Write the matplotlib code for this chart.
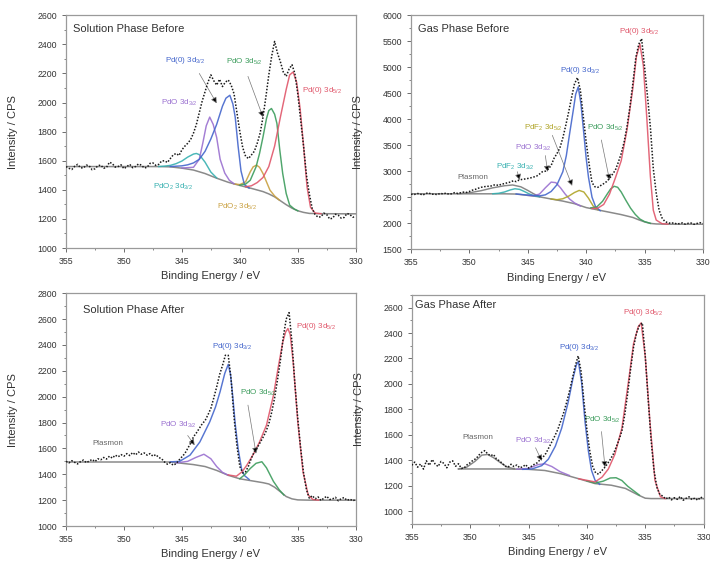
import numpy as np
import matplotlib
matplotlib.use("Agg")
import matplotlib.pyplot as plt
from matplotlib.ticker import MultipleLocator

plt.rcParams['font.family'] = ['Liberation Sans', 'DejaVu Sans']
plt.rcParams['mathtext.fontset'] = 'custom'
plt.rcParams['mathtext.rm'] = 'Liberation Sans'
plt.rcParams['mathtext.it'] = 'Liberation Sans:italic'

# colours used for the fitted components
RED = '#e0566a'
BLUE = '#4466cc'
GREEN = '#3c9c5c'
PURPLE = '#9a70d0'
CYAN = '#36b0b0'
ORANGE = '#c9a040'
OLIVE = '#b0a428'
GREY = '#7a7a7a'

# ---------- Solution Phase Before : raw counts 355 -> 330 eV, 0.25 eV steps
sol_before_raw = [1560, 1548, 1540, 1562, 1575, 1552, 1550, 1570, 1565, 1538,
                  1545, 1566, 1570, 1548, 1555, 1590, 1580, 1556, 1560, 1572,
                  1545, 1560, 1575, 1552, 1560, 1578, 1570, 1550, 1555, 1582,
                  1585, 1568, 1575, 1598, 1600, 1588, 1615, 1640, 1650, 1636,
                  1675, 1700, 1720, 1745, 1790, 1850, 1930, 2010, 2075, 2140,
                  2190, 2150, 2120, 2160, 2110, 2140, 2155, 2120, 2060, 1930,
                  1800, 1690, 1630, 1615, 1640, 1665, 1720, 1790, 1900, 2040,
                  2190, 2320, 2420, 2340, 2280, 2210, 2180, 2230, 2260, 2200,
                  2060, 1880, 1700, 1500, 1370, 1270, 1230, 1212, 1215, 1240,
                  1230, 1200, 1205, 1232, 1225, 1205, 1210, 1238, 1230, 1212,
                  1215]
sol_before_bg_x = [355, 347, 346, 345, 344, 343, 342, 341, 340, 339, 338, 337.5,
                   337, 336.5, 336, 335.5, 335, 334.5, 334, 333, 330]
sol_before_bg_y = [1560, 1560, 1558, 1549, 1536, 1512, 1480, 1452, 1430, 1410, 1388,
                   1372, 1352, 1325, 1298, 1274, 1256, 1245, 1238, 1236, 1235]
sb_pd0_52_x = [339.5, 339, 338.5, 338, 337.5, 337, 336.5, 336, 335.7, 335.4, 335.1,
               334.8, 334.5, 334.2, 333.9, 333.5, 333]
sb_pd0_52_y = [1421, 1428, 1450, 1485, 1560, 1700, 1900, 2090, 2190, 2210, 2140,
               1960, 1700, 1420, 1280, 1240, 1236]
sb_pd0_32_x = [346, 345, 344.5, 344, 343.5, 343, 342.5, 342, 341.5, 341.2, 340.86,
               340.6, 340.4, 340.15, 339.9, 339.6, 339.2]
sb_pd0_32_y = [1560, 1565, 1572, 1585, 1610, 1665, 1750, 1850, 1975, 2030, 2050,
               1990, 1900, 1700, 1530, 1435, 1412]
sb_pdo_32_x = [345, 344, 343.5, 343.2, 342.9, 342.6, 342.3, 342, 341.7, 341.3, 340.9, 340.5]
sb_pdo_32_y = [1550, 1555, 1610, 1720, 1840, 1900, 1850, 1760, 1610, 1515, 1465, 1442]
sb_pdo2_32_x = [347, 346.5, 346, 345.5, 345, 344.5, 344, 343.75, 343.5, 343, 342.5, 342]
sb_pdo2_32_y = [1560, 1563, 1568, 1580, 1598, 1625, 1646, 1650, 1642, 1590, 1522, 1482]
sb_pdo_52_x = [340, 339.5, 339.1, 338.6, 338.3, 338, 337.7, 337.5, 337.27, 337.0,
               336.8, 336.55, 336.3, 336.0, 335.7, 335.3, 335]
sb_pdo_52_y = [1432, 1440, 1466, 1558, 1650, 1764, 1890, 1945, 1959, 1920,
               1856, 1672, 1512, 1375, 1295, 1268, 1256]
sb_pdo2_52_x = [340.5, 340, 339.5, 339.1, 338.85, 338.56, 338.3, 338, 337.7, 337.4, 337, 336.6]
sb_pdo2_52_y = [1441, 1436, 1455, 1524, 1558, 1570, 1555, 1512, 1455, 1398, 1358, 1330]

# ---------- Gas Phase Before
gas_before_raw = [2560, 2548, 2572, 2565, 2540, 2570, 2585, 2555, 2560, 2548,
                  2575, 2562, 2580, 2555, 2568, 2590, 2572, 2585, 2598, 2592,
                  2610, 2635, 2650, 2672, 2690, 2700, 2712, 2705, 2730, 2740,
                  2725, 2752, 2760, 2778, 2790, 2815, 2800, 2830, 2842, 2850,
                  2860, 2872, 2888, 2905, 2945, 2990, 3000, 3040, 3110, 3250,
                  3340, 3450, 3640, 3880, 4140, 4420, 4680, 4800, 4560, 4060,
                  3560, 3140, 2780, 2700, 2690, 2725, 2760, 2800, 2860, 2940,
                  3020, 3170, 3340, 3560, 3860, 4240, 4690, 5180, 5440, 5550,
                  5010, 4450, 3850, 3050, 2580, 2250, 2100, 2030, 2010, 1995,
                  2008, 1985, 1992, 2005, 1980, 1998, 2002, 1978, 1995, 2010,
                  1990]
gas_before_bg_x = [355, 347, 346, 345, 344, 343, 342, 341, 340, 339, 338, 337, 336,
                   335.5, 335, 334.5, 334, 333, 330]
gas_before_bg_y = [2565, 2565, 2560, 2535, 2507, 2465, 2425, 2375, 2300, 2255, 2210,
                   2165, 2110, 2065, 2025, 1995, 1985, 1980, 1980]
gb_pd0_52_x = [339.5, 339, 338.5, 338, 337.5, 337, 336.5, 336, 335.7, 335.4, 335.1,
               334.8, 334.5, 334.25, 334, 333.5, 333]
gb_pd0_52_y = [2282, 2290, 2360, 2560, 2870, 3200, 3800, 4600, 5200, 5450, 5030,
               4000, 2900, 2250, 2060, 1990, 1982]
gb_pd0_32_x = [346, 345, 344, 343.5, 343, 342.5, 342, 341.7, 341.4, 341.1, 340.9,
               340.68, 340.45, 340.2, 340, 339.8, 339.5, 339.2, 338.8]
gb_pd0_32_y = [2562, 2540, 2525, 2545, 2610, 2740, 2990, 3300, 3750, 4180, 4480,
               4620, 4300, 3720, 3250, 2880, 2500, 2320, 2240]
gb_pdo_32_x = [345, 344.5, 344, 343.5, 343, 342.6, 342.2, 341.8, 341.4, 341, 340.5]
gb_pdo_32_y = [2535, 2528, 2560, 2680, 2790, 2780, 2680, 2560, 2460, 2390, 2330]
gb_pdf2_52_x = [343, 342.5, 342, 341.5, 341, 340.6, 340.2, 339.8, 339.4, 339]
gb_pdf2_52_y = [2465, 2452, 2470, 2520, 2590, 2630, 2600, 2480, 2330, 2260]
gb_pdf2_32_x = [348, 347.5, 347, 346.5, 346.1, 345.7, 345.3, 344.9, 344.5, 344]
gb_pdf2_32_y = [2566, 2575, 2600, 2640, 2662, 2650, 2610, 2565, 2528, 2510]
gb_pdo_52_x = [339.6, 339.1, 338.6, 338.2, 337.9, 337.6, 337.3, 337, 336.6, 336.2,
               335.8, 335.4, 335, 334.5]
gb_pdo_52_y = [2295, 2310, 2420, 2560, 2660, 2710, 2690, 2600, 2440, 2290,
               2170, 2080, 2030, 1998]
gb_plasmon_x = [351, 350, 349, 348, 347, 346.3, 345.6, 345, 344.5, 344]
gb_plasmon_y = [2566, 2585, 2625, 2680, 2720, 2735, 2700, 2630, 2565, 2512]

# ---------- Solution Phase After
sol_after_raw = [1500, 1488, 1505, 1492, 1480, 1498, 1510, 1490, 1502, 1515,
                 1498, 1520, 1512, 1530, 1518, 1540, 1525, 1548, 1535, 1552,
                 1540, 1560, 1545, 1568, 1550, 1572, 1555, 1565, 1548, 1560,
                 1540, 1552, 1530, 1520, 1495, 1478, 1490, 1470, 1482, 1510,
                 1535, 1560, 1600, 1640, 1690, 1720, 1755, 1790, 1815, 1860,
                 1910, 1990, 2075, 2170, 2240, 2320, 2320, 2130, 1840, 1620,
                 1460, 1410, 1420, 1465, 1525, 1575, 1605, 1645, 1685, 1730,
                 1790, 1880, 1990, 2130, 2280, 2460, 2600, 2650, 2420, 2100,
                 1830, 1600, 1410, 1280, 1215, 1235, 1210, 1225, 1198, 1215,
                 1230, 1205, 1210, 1222, 1195, 1212, 1220, 1198, 1208, 1195,
                 1205]
sol_after_bg_x = [355, 346, 345, 344, 343, 342, 341, 340, 339, 338, 337.5, 337,
                  336.5, 336, 335.5, 335, 334, 330]
sol_after_bg_y = [1495, 1495, 1485, 1475, 1460, 1430, 1392, 1365, 1350, 1335, 1325,
                  1300, 1265, 1228, 1210, 1202, 1200, 1200]
sa_pd0_52_x = [341, 340.3, 339.8, 339.4, 338.8, 338.3, 337.7, 337.1, 336.7, 336.3,
               336.05, 335.85, 335.65, 335.4, 335.0, 334.55, 334.1, 333.7, 333.2]
sa_pd0_52_y = [1395, 1385, 1420, 1470, 1560, 1650, 1780, 2010, 2220, 2420,
               2500, 2527, 2480, 2270, 1806, 1420, 1240, 1205, 1200]
sa_pd0_32_x = [346, 345.2, 344.3, 343.45, 342.6, 342.1, 341.7, 341.3, 341.0, 340.8,
               340.6, 340.4, 340.15, 339.85, 339.6, 339.2]
sa_pd0_32_y = [1496, 1500, 1548, 1650, 1805, 1920, 2040, 2180, 2250, 2170,
               1990, 1790, 1600, 1440, 1390, 1360]
sa_pdo_32_x = [345.5, 344.5, 343.8, 343.1, 342.5, 342, 341.5, 341]
sa_pdo_32_y = [1488, 1500, 1530, 1555, 1520, 1460, 1415, 1393]
sa_pdo_52_x = [340, 339.6, 339.1, 338.6, 338.1, 337.7, 337.1, 336.6, 336.2]
sa_pdo_52_y = [1366, 1395, 1445, 1485, 1497, 1450, 1345, 1280, 1240]

# ---------- Gas Phase After
gas_after_raw = [1360, 1385, 1345, 1370, 1330, 1395, 1360, 1405, 1370, 1350,
                 1390, 1375, 1340, 1385, 1395, 1352, 1372, 1335, 1340, 1365,
                 1380, 1400, 1412, 1440, 1462, 1475, 1450, 1435, 1445, 1410,
                 1395, 1375, 1352, 1345, 1368, 1350, 1362, 1340, 1348, 1365,
                 1338, 1352, 1368, 1380, 1405, 1425, 1455, 1500, 1545, 1590,
                 1640, 1705, 1770, 1850, 1940, 2040, 2140, 2220, 2100, 1860,
                 1640, 1470, 1350, 1300, 1290, 1315, 1340, 1370, 1405, 1445,
                 1500, 1560, 1630, 1760, 1930, 2120, 2290, 2400, 2460, 2480,
                 2220, 1880, 1560, 1320, 1185, 1130, 1118, 1095, 1110, 1088,
                 1105, 1092, 1115, 1085, 1100, 1112, 1090, 1102, 1085, 1110,
                 1095]
gas_after_bg_x = [351, 347, 345, 343.6, 342.2, 340.7, 339.3, 337.9, 336.7, 335.6,
                  335.0, 334.5, 330]
gas_after_bg_y = [1331, 1331, 1328, 1319, 1293, 1254, 1216, 1203, 1178, 1126,
                  1101, 1098, 1098]
ga_pd0_52_x = [340.7, 339.3, 338.7, 338.16, 337.6, 337.0, 336.45, 336.0, 335.6,
               335.35, 335.0, 334.6, 334.17, 333.7, 333.3]
ga_pd0_52_y = [1254, 1229, 1267, 1331, 1447, 1652, 2010, 2318, 2450,
               2480, 2216, 1703, 1241, 1113, 1098]
ga_pd0_32_x = [345.5, 344.7, 343.87, 343.3, 342.7, 342.16, 341.6, 341.2, 340.9,
               340.73, 340.45, 340.16, 339.87, 339.6, 339.3, 338.9]
ga_pd0_32_y = [1328, 1331, 1357, 1408, 1511, 1652, 1857, 2040, 2150,
               2177, 2010, 1703, 1472, 1319, 1242, 1210]
ga_pdo_32_x = [346, 345, 344.2, 343.6, 343, 342.3, 341.5]
ga_pdo_32_y = [1330, 1335, 1365, 1372, 1350, 1310, 1280]
ga_pdo_52_x = [340, 339.3, 338.6, 338, 337.5, 337, 336.5, 336, 335.5]
ga_pdo_52_y = [1238, 1220, 1235, 1260, 1262, 1240, 1195, 1160, 1125]
ga_plasmon_x = [351, 350.3, 349.6, 349, 348.5, 348, 347.4, 346.8, 346.2]
ga_plasmon_y = [1331, 1345, 1390, 1440, 1445, 1420, 1380, 1345, 1332]

PD0_52 = 'Pd(0) 3d$_{5/2}$'
PD0_32 = 'Pd(0) 3d$_{3/2}$'
PDO_52 = 'PdO 3d$_{5/2}$'
PDO_32 = 'PdO 3d$_{3/2}$'


def setup(ax, title, ylim, ymajor, yticks, title_pos=(0.025, 0.94)):
    ax.set_xlim(355, 330)
    ax.set_ylim(*ylim)
    ax.xaxis.set_major_locator(MultipleLocator(5))
    ax.xaxis.set_minor_locator(MultipleLocator(2.5))
    ax.set_yticks(yticks)
    ax.yaxis.set_minor_locator(MultipleLocator(ymajor / 2))
    ax.tick_params(which='both', direction='out', labelsize=6.3, colors='#555555',
                   labelcolor='#333333')
    ax.tick_params(which='major', length=3, width=0.6)
    ax.tick_params(which='minor', length=1.6, width=0.5)
    for s in ax.spines.values():
        s.set_color('#9a9a9a')
        s.set_linewidth(0.9)
    ax.set_xlabel('Binding Energy / eV', fontsize=8, color='#333333')
    ax.set_ylabel('Intensity / CPS', fontsize=8, color='#333333')
    ax.xaxis.set_label_coords(0.5, -0.1)
    ax.yaxis.set_label_coords(-0.165, 0.5)
    ax.text(title_pos[0], title_pos[1], title, transform=ax.transAxes, fontsize=8,
            color='#333333', va='center', ha='left')


def raw(ax, counts, bg_x, bg_y):
    e = np.linspace(355, 330, len(counts))
    ax.plot(bg_x, bg_y, color='#8a8a8a', lw=1.1, zorder=2)
    ax.plot(e, counts, color='#1a1a1a', lw=1.1, ls=(0, (1, 1.1)), zorder=4)


def comp(ax, x, y, color):
    ax.plot(x, y, color=color, lw=1.05, zorder=3, alpha=0.9)


def label(ax, text, xy, color, tip=None, start=None):
    ax.text(xy[0], xy[1], text, fontsize=5.8, color=color, ha='center', va='center')
    if tip is not None:
        ax.annotate('', xy=tip, xytext=start,
                    arrowprops=dict(arrowstyle='-|>,head_length=0.35,head_width=0.18',
                                    lw=0.5, ec='#777777', fc='black', shrinkA=0, shrinkB=0))


fig = plt.figure(figsize=(7.1, 5.65), dpi=100)
ax1 = fig.add_axes([0.093, 0.561, 0.408, 0.412])
ax2 = fig.add_axes([0.579, 0.559, 0.411, 0.414])
ax3 = fig.add_axes([0.093, 0.069, 0.408, 0.412])
ax4 = fig.add_axes([0.580, 0.073, 0.411, 0.405])

# Solution Phase Before
setup(ax1, 'Solution Phase Before', (1000, 2600), 200, range(1000, 2601, 200))
raw(ax1, sol_before_raw, sol_before_bg_x, sol_before_bg_y)
comp(ax1, sb_pdo2_32_x, sb_pdo2_32_y, CYAN)
comp(ax1, sb_pdo2_52_x, sb_pdo2_52_y, ORANGE)
comp(ax1, sb_pdo_32_x, sb_pdo_32_y, PURPLE)
comp(ax1, sb_pd0_32_x, sb_pd0_32_y, BLUE)
comp(ax1, sb_pdo_52_x, sb_pdo_52_y, GREEN)
comp(ax1, sb_pd0_52_x, sb_pd0_52_y, RED)
label(ax1, PD0_32, (344.7, 2290), BLUE, tip=(342.0, 1995), start=(343.5, 2200))
label(ax1, PDO_32, (345.2, 1995), PURPLE)
label(ax1, PDO_52, (339.6, 2280), GREEN, tip=(338.0, 1900), start=(339.3, 2180))
label(ax1, PD0_52, (332.9, 2085), RED)
label(ax1, 'PdO$_2$ 3d$_{3/2}$', (345.8, 1420), CYAN)
label(ax1, 'PdO$_2$ 3d$_{5/2}$', (340.2, 1280), ORANGE)

# Gas Phase Before
setup(ax2, 'Gas Phase Before', (1500, 6000), 500, range(1500, 6001, 500))
raw(ax2, gas_before_raw, gas_before_bg_x, gas_before_bg_y)
comp(ax2, gb_plasmon_x, gb_plasmon_y, GREY)
comp(ax2, gb_pdf2_32_x, gb_pdf2_32_y, CYAN)
comp(ax2, gb_pdo_32_x, gb_pdo_32_y, PURPLE)
comp(ax2, gb_pdf2_52_x, gb_pdf2_52_y, OLIVE)
comp(ax2, gb_pd0_32_x, gb_pd0_32_y, BLUE)
comp(ax2, gb_pdo_52_x, gb_pdo_52_y, GREEN)
comp(ax2, gb_pd0_52_x, gb_pd0_52_y, RED)
label(ax2, PD0_52, (335.5, 5680), RED)
label(ax2, PD0_32, (340.5, 4940), BLUE)
label(ax2, 'PdF$_2$ 3d$_{5/2}$', (343.7, 3830), OLIVE, tip=(341.2, 2720), start=(342.9, 3690))
label(ax2, PDO_52, (338.4, 3830), GREEN, tip=(338.0, 2830), start=(338.7, 3600))
label(ax2, PDO_32, (344.5, 3440), PURPLE, tip=(343.3, 2990), start=(343.5, 3300))
label(ax2, 'PdF$_2$ 3d$_{3/2}$', (346.1, 3080), CYAN, tip=(345.7, 2830), start=(345.9, 2990))
label(ax2, 'Plasmon', (349.7, 2880), '#666666')

# Solution Phase After
setup(ax3, 'Solution Phase After', (1000, 2800), 200, range(1000, 2801, 200),
      title_pos=(0.06, 0.927))
raw(ax3, sol_after_raw, sol_after_bg_x, sol_after_bg_y)
comp(ax3, sa_pdo_32_x, sa_pdo_32_y, PURPLE)
comp(ax3, sa_pd0_32_x, sa_pd0_32_y, BLUE)
comp(ax3, sa_pdo_52_x, sa_pdo_52_y, GREEN)
comp(ax3, sa_pd0_52_x, sa_pd0_52_y, RED)
label(ax3, PD0_52, (333.4, 2545), RED)
label(ax3, PD0_32, (340.7, 2385), BLUE)
label(ax3, PDO_52, (338.4, 2030), GREEN, tip=(338.6, 1560), start=(339.3, 1935))
label(ax3, PDO_32, (345.35, 1780), PURPLE, tip=(343.9, 1625), start=(344.5, 1700))
label(ax3, 'Plasmon', (351.4, 1640), '#666666')

# Gas Phase After
setup(ax4, 'Gas Phase After', (900, 2700), 200, range(1000, 2601, 200),
      title_pos=(0.012, 0.955))
raw(ax4, gas_after_raw, gas_after_bg_x, gas_after_bg_y)
comp(ax4, ga_plasmon_x, ga_plasmon_y, GREY)
comp(ax4, ga_pdo_32_x, ga_pdo_32_y, PURPLE)
comp(ax4, ga_pd0_32_x, ga_pd0_32_y, BLUE)
comp(ax4, ga_pdo_52_x, ga_pdo_52_y, GREEN)
comp(ax4, ga_pd0_52_x, ga_pd0_52_y, RED)
label(ax4, PD0_52, (335.2, 2560), RED)
label(ax4, PD0_32, (340.7, 2290), BLUE)
label(ax4, PDO_52, (338.7, 1715), GREEN, tip=(338.45, 1345), start=(338.75, 1625))
label(ax4, PDO_32, (344.6, 1555), PURPLE, tip=(343.87, 1395), start=(344.4, 1498))
label(ax4, 'Plasmon', (349.35, 1575), '#666666')

fig.savefig('out.png', dpi=100)
